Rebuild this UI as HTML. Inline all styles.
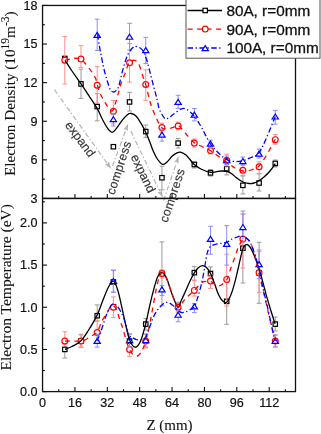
<!DOCTYPE html><html><head><meta charset="utf-8"><style>html,body{margin:0;padding:0;background:#fff;}svg{display:block;will-change:transform}</style></head><body>
<svg width="321" height="434" viewBox="0 0 321 434">
<rect width="321" height="434" fill="#fff"/>
<line x1="54.40" y1="89.70" x2="106.93" y2="162.91" stroke="#b4b4b4" stroke-width="1.2" stroke-dasharray="5,2.2,1.3,2.2"/>
<path d="M111.30,169.00 L105.06,164.25 L107.58,163.82 L108.80,161.57 Z" fill="#b4b4b4"/>
<line x1="112.50" y1="166.00" x2="125.60" y2="130.54" stroke="#b4b4b4" stroke-width="1.2" stroke-dasharray="5,2.2,1.3,2.2"/>
<path d="M128.20,123.50 L127.76,131.33 L125.99,129.48 L123.44,129.74 Z" fill="#b4b4b4"/>
<line x1="130.80" y1="131.00" x2="159.65" y2="191.04" stroke="#b4b4b4" stroke-width="1.2" stroke-dasharray="5,2.2,1.3,2.2"/>
<path d="M162.90,197.80 L157.58,192.04 L160.14,192.05 L161.72,190.04 Z" fill="#b4b4b4"/>
<line x1="163.60" y1="200.50" x2="176.38" y2="163.10" stroke="#b4b4b4" stroke-width="1.2" stroke-dasharray="5,2.2,1.3,2.2"/>
<path d="M178.80,156.00 L178.55,163.84 L176.74,162.03 L174.20,162.35 Z" fill="#b4b4b4"/>
<text x="0" y="0" transform="translate(64.50,125.30) rotate(53.00)" font-family="Liberation Sans, sans-serif" font-size="12.50" letter-spacing="0.00" fill="#363636" stroke="#363636" stroke-width="0.15">expand</text>
<text x="0" y="0" transform="translate(114.30,195.50) rotate(-72.00)" font-family="Liberation Sans, sans-serif" font-size="12.30" letter-spacing="0.30" fill="#363636" stroke="#363636" stroke-width="0.15">compress</text>
<text x="0" y="0" transform="translate(130.60,156.80) rotate(64.50)" font-family="Liberation Sans, sans-serif" font-size="12.50" letter-spacing="0.00" fill="#363636" stroke="#363636" stroke-width="0.15">expand</text>
<text x="0" y="0" transform="translate(167.30,223.20) rotate(-71.50)" font-family="Liberation Sans, sans-serif" font-size="12.30" letter-spacing="0.35" fill="#363636" stroke="#363636" stroke-width="0.15">compress</text>
<rect x="42.55" y="5.45" width="252.95" height="193.00" fill="none" stroke="#111" stroke-width="1.3"/>
<rect x="42.55" y="198.45" width="252.95" height="193.15" fill="none" stroke="#111" stroke-width="1.3"/>
<line x1="58.74" y1="198.45" x2="58.74" y2="196.05" stroke="#111" stroke-width="1.10"/>
<line x1="58.74" y1="391.60" x2="58.74" y2="389.20" stroke="#111" stroke-width="1.10"/>
<line x1="74.93" y1="198.45" x2="74.93" y2="193.95" stroke="#111" stroke-width="1.10"/>
<line x1="74.93" y1="391.60" x2="74.93" y2="387.10" stroke="#111" stroke-width="1.10"/>
<line x1="91.12" y1="198.45" x2="91.12" y2="196.05" stroke="#111" stroke-width="1.10"/>
<line x1="91.12" y1="391.60" x2="91.12" y2="389.20" stroke="#111" stroke-width="1.10"/>
<line x1="107.31" y1="198.45" x2="107.31" y2="193.95" stroke="#111" stroke-width="1.10"/>
<line x1="107.31" y1="391.60" x2="107.31" y2="387.10" stroke="#111" stroke-width="1.10"/>
<line x1="123.49" y1="198.45" x2="123.49" y2="196.05" stroke="#111" stroke-width="1.10"/>
<line x1="123.49" y1="391.60" x2="123.49" y2="389.20" stroke="#111" stroke-width="1.10"/>
<line x1="139.68" y1="198.45" x2="139.68" y2="193.95" stroke="#111" stroke-width="1.10"/>
<line x1="139.68" y1="391.60" x2="139.68" y2="387.10" stroke="#111" stroke-width="1.10"/>
<line x1="155.87" y1="198.45" x2="155.87" y2="196.05" stroke="#111" stroke-width="1.10"/>
<line x1="155.87" y1="391.60" x2="155.87" y2="389.20" stroke="#111" stroke-width="1.10"/>
<line x1="172.06" y1="198.45" x2="172.06" y2="193.95" stroke="#111" stroke-width="1.10"/>
<line x1="172.06" y1="391.60" x2="172.06" y2="387.10" stroke="#111" stroke-width="1.10"/>
<line x1="188.25" y1="198.45" x2="188.25" y2="196.05" stroke="#111" stroke-width="1.10"/>
<line x1="188.25" y1="391.60" x2="188.25" y2="389.20" stroke="#111" stroke-width="1.10"/>
<line x1="204.44" y1="198.45" x2="204.44" y2="193.95" stroke="#111" stroke-width="1.10"/>
<line x1="204.44" y1="391.60" x2="204.44" y2="387.10" stroke="#111" stroke-width="1.10"/>
<line x1="220.63" y1="198.45" x2="220.63" y2="196.05" stroke="#111" stroke-width="1.10"/>
<line x1="220.63" y1="391.60" x2="220.63" y2="389.20" stroke="#111" stroke-width="1.10"/>
<line x1="236.82" y1="198.45" x2="236.82" y2="193.95" stroke="#111" stroke-width="1.10"/>
<line x1="236.82" y1="391.60" x2="236.82" y2="387.10" stroke="#111" stroke-width="1.10"/>
<line x1="253.00" y1="198.45" x2="253.00" y2="196.05" stroke="#111" stroke-width="1.10"/>
<line x1="253.00" y1="391.60" x2="253.00" y2="389.20" stroke="#111" stroke-width="1.10"/>
<line x1="269.19" y1="198.45" x2="269.19" y2="193.95" stroke="#111" stroke-width="1.10"/>
<line x1="269.19" y1="391.60" x2="269.19" y2="387.10" stroke="#111" stroke-width="1.10"/>
<line x1="285.38" y1="198.45" x2="285.38" y2="196.05" stroke="#111" stroke-width="1.10"/>
<line x1="285.38" y1="391.60" x2="285.38" y2="389.20" stroke="#111" stroke-width="1.10"/>
<line x1="42.55" y1="198.45" x2="47.05" y2="198.45" stroke="#111" stroke-width="1.10"/>
<line x1="42.55" y1="179.15" x2="44.95" y2="179.15" stroke="#111" stroke-width="1.10"/>
<line x1="42.55" y1="159.85" x2="47.05" y2="159.85" stroke="#111" stroke-width="1.10"/>
<line x1="42.55" y1="140.55" x2="44.95" y2="140.55" stroke="#111" stroke-width="1.10"/>
<line x1="42.55" y1="121.25" x2="47.05" y2="121.25" stroke="#111" stroke-width="1.10"/>
<line x1="42.55" y1="101.95" x2="44.95" y2="101.95" stroke="#111" stroke-width="1.10"/>
<line x1="42.55" y1="82.65" x2="47.05" y2="82.65" stroke="#111" stroke-width="1.10"/>
<line x1="42.55" y1="63.35" x2="44.95" y2="63.35" stroke="#111" stroke-width="1.10"/>
<line x1="42.55" y1="44.05" x2="47.05" y2="44.05" stroke="#111" stroke-width="1.10"/>
<line x1="42.55" y1="24.75" x2="44.95" y2="24.75" stroke="#111" stroke-width="1.10"/>
<line x1="42.55" y1="5.45" x2="47.05" y2="5.45" stroke="#111" stroke-width="1.10"/>
<line x1="42.55" y1="391.60" x2="47.05" y2="391.60" stroke="#111" stroke-width="1.10"/>
<line x1="42.55" y1="370.51" x2="44.95" y2="370.51" stroke="#111" stroke-width="1.10"/>
<line x1="42.55" y1="349.43" x2="47.05" y2="349.43" stroke="#111" stroke-width="1.10"/>
<line x1="42.55" y1="328.34" x2="44.95" y2="328.34" stroke="#111" stroke-width="1.10"/>
<line x1="42.55" y1="307.26" x2="47.05" y2="307.26" stroke="#111" stroke-width="1.10"/>
<line x1="42.55" y1="286.17" x2="44.95" y2="286.17" stroke="#111" stroke-width="1.10"/>
<line x1="42.55" y1="265.08" x2="47.05" y2="265.08" stroke="#111" stroke-width="1.10"/>
<line x1="42.55" y1="244.00" x2="44.95" y2="244.00" stroke="#111" stroke-width="1.10"/>
<line x1="42.55" y1="222.91" x2="47.05" y2="222.91" stroke="#111" stroke-width="1.10"/>
<line x1="42.55" y1="201.82" x2="44.95" y2="201.82" stroke="#111" stroke-width="1.10"/>
<text x="37.5" y="202.85" text-anchor="end" font-family="Liberation Sans, sans-serif" font-size="12.6" fill="#111" stroke="#111" stroke-width="0.2">3</text>
<text x="37.5" y="164.25" text-anchor="end" font-family="Liberation Sans, sans-serif" font-size="12.6" fill="#111" stroke="#111" stroke-width="0.2">6</text>
<text x="37.5" y="125.65" text-anchor="end" font-family="Liberation Sans, sans-serif" font-size="12.6" fill="#111" stroke="#111" stroke-width="0.2">9</text>
<text x="37.5" y="87.05" text-anchor="end" font-family="Liberation Sans, sans-serif" font-size="12.6" fill="#111" stroke="#111" stroke-width="0.2">12</text>
<text x="37.5" y="48.45" text-anchor="end" font-family="Liberation Sans, sans-serif" font-size="12.6" fill="#111" stroke="#111" stroke-width="0.2">15</text>
<text x="37.5" y="9.85" text-anchor="end" font-family="Liberation Sans, sans-serif" font-size="12.6" fill="#111" stroke="#111" stroke-width="0.2">18</text>
<text x="37.5" y="396.00" text-anchor="end" font-family="Liberation Sans, sans-serif" font-size="12.6" fill="#111" stroke="#111" stroke-width="0.2">0.0</text>
<text x="37.5" y="353.83" text-anchor="end" font-family="Liberation Sans, sans-serif" font-size="12.6" fill="#111" stroke="#111" stroke-width="0.2">0.5</text>
<text x="37.5" y="311.66" text-anchor="end" font-family="Liberation Sans, sans-serif" font-size="12.6" fill="#111" stroke="#111" stroke-width="0.2">1.0</text>
<text x="37.5" y="269.48" text-anchor="end" font-family="Liberation Sans, sans-serif" font-size="12.6" fill="#111" stroke="#111" stroke-width="0.2">1.5</text>
<text x="37.5" y="227.31" text-anchor="end" font-family="Liberation Sans, sans-serif" font-size="12.6" fill="#111" stroke="#111" stroke-width="0.2">2.0</text>
<text x="42.55" y="407" text-anchor="middle" font-family="Liberation Sans, sans-serif" font-size="12.6" fill="#111" stroke="#111" stroke-width="0.2">0</text>
<text x="74.93" y="407" text-anchor="middle" font-family="Liberation Sans, sans-serif" font-size="12.6" fill="#111" stroke="#111" stroke-width="0.2">16</text>
<text x="107.31" y="407" text-anchor="middle" font-family="Liberation Sans, sans-serif" font-size="12.6" fill="#111" stroke="#111" stroke-width="0.2">32</text>
<text x="139.68" y="407" text-anchor="middle" font-family="Liberation Sans, sans-serif" font-size="12.6" fill="#111" stroke="#111" stroke-width="0.2">48</text>
<text x="172.06" y="407" text-anchor="middle" font-family="Liberation Sans, sans-serif" font-size="12.6" fill="#111" stroke="#111" stroke-width="0.2">64</text>
<text x="204.44" y="407" text-anchor="middle" font-family="Liberation Sans, sans-serif" font-size="12.6" fill="#111" stroke="#111" stroke-width="0.2">80</text>
<text x="236.82" y="407" text-anchor="middle" font-family="Liberation Sans, sans-serif" font-size="12.6" fill="#111" stroke="#111" stroke-width="0.2">96</text>
<text x="269.19" y="407" text-anchor="middle" font-family="Liberation Sans, sans-serif" font-size="12.6" fill="#111" stroke="#111" stroke-width="0.2">112</text>
<text x="0" y="0" transform="translate(15.4,176) rotate(-90)" font-family="Liberation Serif, serif" font-size="15.2" fill="#111" stroke="#111" stroke-width="0.08">Electron Density (10<tspan font-size="11.6" dy="-6">19</tspan><tspan dy="6">m</tspan><tspan font-size="11.6" dy="-6">-3</tspan><tspan dy="6">)</tspan></text>
<text x="0" y="0" transform="translate(10.8,370.5) rotate(-90)" font-family="Liberation Serif, serif" font-size="15.5" fill="#111" stroke="#111" stroke-width="0.08">Electron Temperature (eV)</text>
<text x="169.5" y="429.5" text-anchor="middle" font-family="Liberation Serif, serif" font-size="15" fill="#111" stroke="#111" stroke-width="0.08">Z (mm)</text>
<line x1="81.00" y1="69.20" x2="81.00" y2="98.40" stroke="#9a9a9a" stroke-width="1.00"/>
<line x1="78.65" y1="69.20" x2="83.35" y2="69.20" stroke="#9a9a9a" stroke-width="1.00"/>
<line x1="78.65" y1="98.40" x2="83.35" y2="98.40" stroke="#9a9a9a" stroke-width="1.00"/>
<line x1="97.19" y1="93.60" x2="97.19" y2="120.90" stroke="#9a9a9a" stroke-width="1.00"/>
<line x1="94.84" y1="93.60" x2="99.54" y2="93.60" stroke="#9a9a9a" stroke-width="1.00"/>
<line x1="94.84" y1="120.90" x2="99.54" y2="120.90" stroke="#9a9a9a" stroke-width="1.00"/>
<line x1="129.56" y1="92.40" x2="129.56" y2="111.00" stroke="#9a9a9a" stroke-width="1.00"/>
<line x1="127.21" y1="92.40" x2="131.91" y2="92.40" stroke="#9a9a9a" stroke-width="1.00"/>
<line x1="127.21" y1="111.00" x2="131.91" y2="111.00" stroke="#9a9a9a" stroke-width="1.00"/>
<line x1="145.75" y1="125.00" x2="145.75" y2="137.40" stroke="#9a9a9a" stroke-width="1.00"/>
<line x1="143.40" y1="125.00" x2="148.10" y2="125.00" stroke="#9a9a9a" stroke-width="1.00"/>
<line x1="143.40" y1="137.40" x2="148.10" y2="137.40" stroke="#9a9a9a" stroke-width="1.00"/>
<line x1="161.94" y1="166.20" x2="161.94" y2="189.90" stroke="#9a9a9a" stroke-width="1.00"/>
<line x1="159.59" y1="166.20" x2="164.29" y2="166.20" stroke="#9a9a9a" stroke-width="1.00"/>
<line x1="159.59" y1="189.90" x2="164.29" y2="189.90" stroke="#9a9a9a" stroke-width="1.00"/>
<line x1="178.13" y1="138.50" x2="178.13" y2="148.00" stroke="#9a9a9a" stroke-width="1.00"/>
<line x1="175.78" y1="138.50" x2="180.48" y2="138.50" stroke="#9a9a9a" stroke-width="1.00"/>
<line x1="175.78" y1="148.00" x2="180.48" y2="148.00" stroke="#9a9a9a" stroke-width="1.00"/>
<line x1="194.32" y1="162.00" x2="194.32" y2="168.00" stroke="#9a9a9a" stroke-width="1.00"/>
<line x1="191.97" y1="162.00" x2="196.67" y2="162.00" stroke="#9a9a9a" stroke-width="1.00"/>
<line x1="191.97" y1="168.00" x2="196.67" y2="168.00" stroke="#9a9a9a" stroke-width="1.00"/>
<line x1="210.51" y1="169.50" x2="210.51" y2="176.00" stroke="#9a9a9a" stroke-width="1.00"/>
<line x1="208.16" y1="169.50" x2="212.86" y2="169.50" stroke="#9a9a9a" stroke-width="1.00"/>
<line x1="208.16" y1="176.00" x2="212.86" y2="176.00" stroke="#9a9a9a" stroke-width="1.00"/>
<line x1="226.70" y1="163.00" x2="226.70" y2="174.90" stroke="#9a9a9a" stroke-width="1.00"/>
<line x1="224.35" y1="163.00" x2="229.05" y2="163.00" stroke="#9a9a9a" stroke-width="1.00"/>
<line x1="224.35" y1="174.90" x2="229.05" y2="174.90" stroke="#9a9a9a" stroke-width="1.00"/>
<line x1="242.89" y1="176.00" x2="242.89" y2="194.00" stroke="#9a9a9a" stroke-width="1.00"/>
<line x1="240.54" y1="176.00" x2="245.24" y2="176.00" stroke="#9a9a9a" stroke-width="1.00"/>
<line x1="240.54" y1="194.00" x2="245.24" y2="194.00" stroke="#9a9a9a" stroke-width="1.00"/>
<line x1="259.08" y1="173.70" x2="259.08" y2="191.00" stroke="#9a9a9a" stroke-width="1.00"/>
<line x1="256.73" y1="173.70" x2="261.43" y2="173.70" stroke="#9a9a9a" stroke-width="1.00"/>
<line x1="256.73" y1="191.00" x2="261.43" y2="191.00" stroke="#9a9a9a" stroke-width="1.00"/>
<line x1="275.26" y1="160.00" x2="275.26" y2="167.00" stroke="#9a9a9a" stroke-width="1.00"/>
<line x1="272.91" y1="160.00" x2="277.61" y2="160.00" stroke="#9a9a9a" stroke-width="1.00"/>
<line x1="272.91" y1="167.00" x2="277.61" y2="167.00" stroke="#9a9a9a" stroke-width="1.00"/>
<rect x="62.61" y="56.26" width="4.40" height="4.40" fill="#fff" stroke="#000" stroke-width="1.20"/>
<rect x="78.80" y="81.74" width="4.40" height="4.40" fill="#fff" stroke="#000" stroke-width="1.20"/>
<rect x="94.99" y="104.38" width="4.40" height="4.40" fill="#fff" stroke="#000" stroke-width="1.20"/>
<rect x="111.18" y="144.53" width="4.40" height="4.40" fill="#fff" stroke="#000" stroke-width="1.20"/>
<rect x="127.36" y="99.75" width="4.40" height="4.40" fill="#fff" stroke="#000" stroke-width="1.20"/>
<rect x="143.55" y="129.34" width="4.40" height="4.40" fill="#fff" stroke="#000" stroke-width="1.20"/>
<rect x="159.74" y="175.53" width="4.40" height="4.40" fill="#fff" stroke="#000" stroke-width="1.20"/>
<rect x="175.93" y="140.92" width="4.40" height="4.40" fill="#fff" stroke="#000" stroke-width="1.20"/>
<rect x="192.12" y="162.28" width="4.40" height="4.40" fill="#fff" stroke="#000" stroke-width="1.20"/>
<rect x="208.31" y="170.65" width="4.40" height="4.40" fill="#fff" stroke="#000" stroke-width="1.20"/>
<rect x="224.50" y="166.53" width="4.40" height="4.40" fill="#fff" stroke="#000" stroke-width="1.20"/>
<rect x="240.69" y="183.13" width="4.40" height="4.40" fill="#fff" stroke="#000" stroke-width="1.20"/>
<rect x="256.88" y="180.81" width="4.40" height="4.40" fill="#fff" stroke="#000" stroke-width="1.20"/>
<rect x="273.06" y="161.25" width="4.40" height="4.40" fill="#fff" stroke="#000" stroke-width="1.20"/>
<line x1="64.81" y1="36.60" x2="64.81" y2="84.00" stroke="#ff8c8c" stroke-width="1.00"/>
<line x1="62.46" y1="36.60" x2="67.16" y2="36.60" stroke="#ff8c8c" stroke-width="1.00"/>
<line x1="62.46" y1="84.00" x2="67.16" y2="84.00" stroke="#ff8c8c" stroke-width="1.00"/>
<line x1="81.00" y1="45.70" x2="81.00" y2="67.40" stroke="#ff8c8c" stroke-width="1.00"/>
<line x1="78.65" y1="45.70" x2="83.35" y2="45.70" stroke="#ff8c8c" stroke-width="1.00"/>
<line x1="78.65" y1="67.40" x2="83.35" y2="67.40" stroke="#ff8c8c" stroke-width="1.00"/>
<line x1="97.19" y1="66.70" x2="97.19" y2="103.00" stroke="#ff8c8c" stroke-width="1.00"/>
<line x1="94.84" y1="66.70" x2="99.54" y2="66.70" stroke="#ff8c8c" stroke-width="1.00"/>
<line x1="94.84" y1="103.00" x2="99.54" y2="103.00" stroke="#ff8c8c" stroke-width="1.00"/>
<line x1="113.38" y1="100.60" x2="113.38" y2="124.00" stroke="#ff8c8c" stroke-width="1.00"/>
<line x1="111.03" y1="100.60" x2="115.73" y2="100.60" stroke="#ff8c8c" stroke-width="1.00"/>
<line x1="111.03" y1="124.00" x2="115.73" y2="124.00" stroke="#ff8c8c" stroke-width="1.00"/>
<line x1="129.56" y1="43.50" x2="129.56" y2="82.10" stroke="#ff8c8c" stroke-width="1.00"/>
<line x1="127.21" y1="43.50" x2="131.91" y2="43.50" stroke="#ff8c8c" stroke-width="1.00"/>
<line x1="127.21" y1="82.10" x2="131.91" y2="82.10" stroke="#ff8c8c" stroke-width="1.00"/>
<line x1="145.75" y1="69.80" x2="145.75" y2="100.30" stroke="#ff8c8c" stroke-width="1.00"/>
<line x1="143.40" y1="69.80" x2="148.10" y2="69.80" stroke="#ff8c8c" stroke-width="1.00"/>
<line x1="143.40" y1="100.30" x2="148.10" y2="100.30" stroke="#ff8c8c" stroke-width="1.00"/>
<line x1="161.94" y1="123.20" x2="161.94" y2="132.00" stroke="#ff8c8c" stroke-width="1.00"/>
<line x1="159.59" y1="123.20" x2="164.29" y2="123.20" stroke="#ff8c8c" stroke-width="1.00"/>
<line x1="159.59" y1="132.00" x2="164.29" y2="132.00" stroke="#ff8c8c" stroke-width="1.00"/>
<line x1="178.13" y1="122.10" x2="178.13" y2="129.80" stroke="#ff8c8c" stroke-width="1.00"/>
<line x1="175.78" y1="122.10" x2="180.48" y2="122.10" stroke="#ff8c8c" stroke-width="1.00"/>
<line x1="175.78" y1="129.80" x2="180.48" y2="129.80" stroke="#ff8c8c" stroke-width="1.00"/>
<line x1="194.32" y1="139.00" x2="194.32" y2="147.00" stroke="#ff8c8c" stroke-width="1.00"/>
<line x1="191.97" y1="139.00" x2="196.67" y2="139.00" stroke="#ff8c8c" stroke-width="1.00"/>
<line x1="191.97" y1="147.00" x2="196.67" y2="147.00" stroke="#ff8c8c" stroke-width="1.00"/>
<line x1="210.51" y1="147.00" x2="210.51" y2="154.00" stroke="#ff8c8c" stroke-width="1.00"/>
<line x1="208.16" y1="147.00" x2="212.86" y2="147.00" stroke="#ff8c8c" stroke-width="1.00"/>
<line x1="208.16" y1="154.00" x2="212.86" y2="154.00" stroke="#ff8c8c" stroke-width="1.00"/>
<line x1="226.70" y1="154.10" x2="226.70" y2="166.00" stroke="#ff8c8c" stroke-width="1.00"/>
<line x1="224.35" y1="154.10" x2="229.05" y2="154.10" stroke="#ff8c8c" stroke-width="1.00"/>
<line x1="224.35" y1="166.00" x2="229.05" y2="166.00" stroke="#ff8c8c" stroke-width="1.00"/>
<line x1="242.89" y1="165.00" x2="242.89" y2="175.50" stroke="#ff8c8c" stroke-width="1.00"/>
<line x1="240.54" y1="165.00" x2="245.24" y2="165.00" stroke="#ff8c8c" stroke-width="1.00"/>
<line x1="240.54" y1="175.50" x2="245.24" y2="175.50" stroke="#ff8c8c" stroke-width="1.00"/>
<line x1="259.08" y1="161.80" x2="259.08" y2="173.70" stroke="#ff8c8c" stroke-width="1.00"/>
<line x1="256.73" y1="161.80" x2="261.43" y2="161.80" stroke="#ff8c8c" stroke-width="1.00"/>
<line x1="256.73" y1="173.70" x2="261.43" y2="173.70" stroke="#ff8c8c" stroke-width="1.00"/>
<line x1="275.26" y1="134.60" x2="275.26" y2="144.20" stroke="#ff8c8c" stroke-width="1.00"/>
<line x1="272.91" y1="134.60" x2="277.61" y2="134.60" stroke="#ff8c8c" stroke-width="1.00"/>
<line x1="272.91" y1="144.20" x2="277.61" y2="144.20" stroke="#ff8c8c" stroke-width="1.00"/>
<circle cx="64.81" cy="60.26" r="2.90" fill="#fff" stroke="#ff0000" stroke-width="1.20"/>
<circle cx="81.00" cy="59.10" r="2.90" fill="#fff" stroke="#ff0000" stroke-width="1.20"/>
<circle cx="97.19" cy="85.22" r="2.90" fill="#fff" stroke="#ff0000" stroke-width="1.20"/>
<circle cx="113.38" cy="111.21" r="2.90" fill="#fff" stroke="#ff0000" stroke-width="1.20"/>
<circle cx="129.56" cy="62.84" r="2.90" fill="#fff" stroke="#ff0000" stroke-width="1.20"/>
<circle cx="145.75" cy="84.45" r="2.90" fill="#fff" stroke="#ff0000" stroke-width="1.20"/>
<circle cx="161.94" cy="127.43" r="2.90" fill="#fff" stroke="#ff0000" stroke-width="1.20"/>
<circle cx="178.13" cy="126.01" r="2.90" fill="#fff" stroke="#ff0000" stroke-width="1.20"/>
<circle cx="194.32" cy="143.12" r="2.90" fill="#fff" stroke="#ff0000" stroke-width="1.20"/>
<circle cx="210.51" cy="150.59" r="2.90" fill="#fff" stroke="#ff0000" stroke-width="1.20"/>
<circle cx="226.70" cy="160.36" r="2.90" fill="#fff" stroke="#ff0000" stroke-width="1.20"/>
<circle cx="242.89" cy="170.27" r="2.90" fill="#fff" stroke="#ff0000" stroke-width="1.20"/>
<circle cx="259.08" cy="166.80" r="2.90" fill="#fff" stroke="#ff0000" stroke-width="1.20"/>
<circle cx="275.26" cy="139.65" r="2.90" fill="#fff" stroke="#ff0000" stroke-width="1.20"/>
<line x1="97.19" y1="19.20" x2="97.19" y2="50.40" stroke="#8c8cff" stroke-width="1.00"/>
<line x1="94.84" y1="19.20" x2="99.54" y2="19.20" stroke="#8c8cff" stroke-width="1.00"/>
<line x1="94.84" y1="50.40" x2="99.54" y2="50.40" stroke="#8c8cff" stroke-width="1.00"/>
<line x1="113.38" y1="114.00" x2="113.38" y2="126.00" stroke="#8c8cff" stroke-width="1.00"/>
<line x1="111.03" y1="114.00" x2="115.73" y2="114.00" stroke="#8c8cff" stroke-width="1.00"/>
<line x1="111.03" y1="126.00" x2="115.73" y2="126.00" stroke="#8c8cff" stroke-width="1.00"/>
<line x1="129.56" y1="23.30" x2="129.56" y2="50.00" stroke="#8c8cff" stroke-width="1.00"/>
<line x1="127.21" y1="23.30" x2="131.91" y2="23.30" stroke="#8c8cff" stroke-width="1.00"/>
<line x1="127.21" y1="50.00" x2="131.91" y2="50.00" stroke="#8c8cff" stroke-width="1.00"/>
<line x1="145.75" y1="37.40" x2="145.75" y2="63.60" stroke="#8c8cff" stroke-width="1.00"/>
<line x1="143.40" y1="37.40" x2="148.10" y2="37.40" stroke="#8c8cff" stroke-width="1.00"/>
<line x1="143.40" y1="63.60" x2="148.10" y2="63.60" stroke="#8c8cff" stroke-width="1.00"/>
<line x1="161.94" y1="129.00" x2="161.94" y2="141.10" stroke="#8c8cff" stroke-width="1.00"/>
<line x1="159.59" y1="129.00" x2="164.29" y2="129.00" stroke="#8c8cff" stroke-width="1.00"/>
<line x1="159.59" y1="141.10" x2="164.29" y2="141.10" stroke="#8c8cff" stroke-width="1.00"/>
<line x1="178.13" y1="95.30" x2="178.13" y2="108.40" stroke="#8c8cff" stroke-width="1.00"/>
<line x1="175.78" y1="95.30" x2="180.48" y2="95.30" stroke="#8c8cff" stroke-width="1.00"/>
<line x1="175.78" y1="108.40" x2="180.48" y2="108.40" stroke="#8c8cff" stroke-width="1.00"/>
<line x1="194.32" y1="108.50" x2="194.32" y2="120.90" stroke="#8c8cff" stroke-width="1.00"/>
<line x1="191.97" y1="108.50" x2="196.67" y2="108.50" stroke="#8c8cff" stroke-width="1.00"/>
<line x1="191.97" y1="120.90" x2="196.67" y2="120.90" stroke="#8c8cff" stroke-width="1.00"/>
<line x1="210.51" y1="140.20" x2="210.51" y2="147.50" stroke="#8c8cff" stroke-width="1.00"/>
<line x1="208.16" y1="140.20" x2="212.86" y2="140.20" stroke="#8c8cff" stroke-width="1.00"/>
<line x1="208.16" y1="147.50" x2="212.86" y2="147.50" stroke="#8c8cff" stroke-width="1.00"/>
<line x1="226.70" y1="156.00" x2="226.70" y2="164.50" stroke="#8c8cff" stroke-width="1.00"/>
<line x1="224.35" y1="156.00" x2="229.05" y2="156.00" stroke="#8c8cff" stroke-width="1.00"/>
<line x1="224.35" y1="164.50" x2="229.05" y2="164.50" stroke="#8c8cff" stroke-width="1.00"/>
<line x1="242.89" y1="157.00" x2="242.89" y2="165.00" stroke="#8c8cff" stroke-width="1.00"/>
<line x1="240.54" y1="157.00" x2="245.24" y2="157.00" stroke="#8c8cff" stroke-width="1.00"/>
<line x1="240.54" y1="165.00" x2="245.24" y2="165.00" stroke="#8c8cff" stroke-width="1.00"/>
<line x1="259.08" y1="149.00" x2="259.08" y2="158.00" stroke="#8c8cff" stroke-width="1.00"/>
<line x1="256.73" y1="149.00" x2="261.43" y2="149.00" stroke="#8c8cff" stroke-width="1.00"/>
<line x1="256.73" y1="158.00" x2="261.43" y2="158.00" stroke="#8c8cff" stroke-width="1.00"/>
<line x1="275.26" y1="110.40" x2="275.26" y2="124.20" stroke="#8c8cff" stroke-width="1.00"/>
<line x1="272.91" y1="110.40" x2="277.61" y2="110.40" stroke="#8c8cff" stroke-width="1.00"/>
<line x1="272.91" y1="124.20" x2="277.61" y2="124.20" stroke="#8c8cff" stroke-width="1.00"/>
<path d="M97.19,32.44 L100.34,37.44 L94.04,37.44 Z" fill="#fff" stroke="#0000ff" stroke-width="1.20" stroke-linejoin="miter"/>
<path d="M113.38,116.72 L116.53,121.72 L110.23,121.72 Z" fill="#fff" stroke="#0000ff" stroke-width="1.20" stroke-linejoin="miter"/>
<path d="M129.56,34.24 L132.71,39.24 L126.41,39.24 Z" fill="#fff" stroke="#0000ff" stroke-width="1.20" stroke-linejoin="miter"/>
<path d="M145.75,47.63 L148.90,52.63 L142.60,52.63 Z" fill="#fff" stroke="#0000ff" stroke-width="1.20" stroke-linejoin="miter"/>
<path d="M161.94,132.16 L165.09,137.16 L158.79,137.16 Z" fill="#fff" stroke="#0000ff" stroke-width="1.20" stroke-linejoin="miter"/>
<path d="M178.13,99.35 L181.28,104.35 L174.98,104.35 Z" fill="#fff" stroke="#0000ff" stroke-width="1.20" stroke-linejoin="miter"/>
<path d="M194.32,112.09 L197.47,117.09 L191.17,117.09 Z" fill="#fff" stroke="#0000ff" stroke-width="1.20" stroke-linejoin="miter"/>
<path d="M210.51,141.17 L213.66,146.17 L207.36,146.17 Z" fill="#fff" stroke="#0000ff" stroke-width="1.20" stroke-linejoin="miter"/>
<path d="M226.70,157.76 L229.85,162.76 L223.55,162.76 Z" fill="#fff" stroke="#0000ff" stroke-width="1.20" stroke-linejoin="miter"/>
<path d="M242.89,158.54 L246.04,163.54 L239.74,163.54 Z" fill="#fff" stroke="#0000ff" stroke-width="1.20" stroke-linejoin="miter"/>
<path d="M259.08,151.07 L262.23,156.07 L255.93,156.07 Z" fill="#fff" stroke="#0000ff" stroke-width="1.20" stroke-linejoin="miter"/>
<path d="M275.26,114.02 L278.41,119.02 L272.11,119.02 Z" fill="#fff" stroke="#0000ff" stroke-width="1.20" stroke-linejoin="miter"/>
<path d="M64.90,60.30 C66.08,62.08 69.28,67.02 72.00,71.00 C74.72,74.98 78.37,80.07 81.20,84.20 C84.03,88.33 86.30,91.70 89.00,95.80 C91.70,99.90 95.40,105.35 97.40,108.80 C99.40,112.25 99.75,113.97 101.00,116.50 C102.25,119.03 103.65,121.83 104.90,124.00 C106.15,126.17 107.27,128.12 108.50,129.50 C109.73,130.88 111.02,132.43 112.30,132.30 C113.58,132.17 114.50,130.77 116.20,128.70 C117.90,126.63 120.63,122.23 122.50,119.90 C124.37,117.57 125.95,115.77 127.40,114.70 C128.85,113.63 129.73,113.25 131.20,113.50 C132.67,113.75 134.53,114.50 136.20,116.20 C137.87,117.90 139.55,120.90 141.20,123.70 C142.85,126.50 144.63,129.87 146.10,133.00 C147.57,136.13 148.85,139.58 150.00,142.50 C151.15,145.42 151.83,147.83 153.00,150.50 C154.17,153.17 155.43,156.20 157.00,158.50 C158.57,160.80 160.73,163.72 162.40,164.30 C164.07,164.88 165.35,163.37 167.00,162.00 C168.65,160.63 170.63,157.63 172.30,156.10 C173.97,154.57 175.53,153.43 177.00,152.80 C178.47,152.17 179.60,151.93 181.10,152.30 C182.60,152.67 184.52,153.80 186.00,155.00 C187.48,156.20 188.62,157.90 190.00,159.50 C191.38,161.10 192.48,163.02 194.30,164.60 C196.12,166.18 198.25,167.72 200.90,169.00 C203.55,170.28 207.68,171.83 210.20,172.30 C212.72,172.77 214.17,172.02 216.00,171.80 C217.83,171.58 219.30,171.05 221.20,171.00 C223.10,170.95 225.60,171.00 227.40,171.50 C229.20,172.00 230.45,172.93 232.00,174.00 C233.55,175.07 234.87,176.57 236.70,177.90 C238.53,179.23 240.92,181.07 243.00,182.00 C245.08,182.93 247.37,183.33 249.20,183.50 C251.03,183.67 252.45,183.42 254.00,183.00 C255.55,182.58 256.83,182.00 258.50,181.00 C260.17,180.00 262.08,178.67 264.00,177.00 C265.92,175.33 268.12,173.23 270.00,171.00 C271.88,168.77 274.42,164.83 275.30,163.60" fill="none" stroke="#000" stroke-width="1.30"  stroke-linejoin="round"/>
<path d="M64.90,60.30 C66.37,59.97 71.03,58.50 73.70,58.30 C76.37,58.10 79.08,58.37 80.90,59.10 C82.72,59.83 82.95,60.80 84.60,62.70 C86.25,64.60 88.98,67.90 90.80,70.50 C92.62,73.10 94.42,75.90 95.50,78.30 C96.58,80.70 96.55,82.45 97.30,84.90 C98.05,87.35 98.95,90.50 100.00,93.00 C101.05,95.50 102.27,97.57 103.60,99.90 C104.93,102.23 106.55,105.13 108.00,107.00 C109.45,108.87 111.05,111.77 112.30,111.10 C113.55,110.43 114.45,106.12 115.50,103.00 C116.55,99.88 117.65,95.73 118.60,92.40 C119.55,89.07 120.05,86.35 121.20,83.00 C122.35,79.65 124.17,75.72 125.50,72.30 C126.83,68.88 127.75,64.50 129.20,62.50 C130.65,60.50 132.63,60.12 134.20,60.30 C135.77,60.48 137.13,60.87 138.60,63.60 C140.07,66.33 141.78,73.12 143.00,76.70 C144.22,80.28 144.68,80.80 145.90,85.10 C147.12,89.40 148.67,97.23 150.30,102.50 C151.93,107.77 153.82,112.52 155.70,116.70 C157.58,120.88 159.60,125.60 161.60,127.60 C163.60,129.60 165.80,128.72 167.70,128.70 C169.60,128.68 171.25,128.05 173.00,127.50 C174.75,126.95 176.17,124.48 178.20,125.40 C180.23,126.32 182.58,130.17 185.20,133.00 C187.82,135.83 191.10,140.15 193.90,142.40 C196.70,144.65 199.28,145.15 202.00,146.50 C204.72,147.85 207.53,148.92 210.20,150.50 C212.87,152.08 215.23,154.03 218.00,156.00 C220.77,157.97 223.97,160.30 226.80,162.30 C229.63,164.30 232.30,166.55 235.00,168.00 C237.70,169.45 240.33,170.67 243.00,171.00 C245.67,171.33 248.42,170.77 251.00,170.00 C253.58,169.23 256.00,168.73 258.50,166.40 C261.00,164.07 263.20,160.52 266.00,156.00 C268.80,151.48 273.75,142.08 275.30,139.30" fill="none" stroke="#ff0000" stroke-width="1.30" stroke-dasharray="5,4.5" stroke-linejoin="round"/>
<path d="M97.60,34.20 C97.90,36.20 98.75,42.40 99.40,46.20 C100.05,50.00 100.78,53.37 101.50,57.00 C102.22,60.63 102.78,64.17 103.70,68.00 C104.62,71.83 105.90,76.37 107.00,80.00 C108.10,83.63 109.13,87.80 110.30,89.80 C111.47,91.80 112.88,92.05 114.00,92.00 C115.12,91.95 116.17,90.60 117.00,89.50 C117.83,88.40 117.95,88.98 119.00,85.40 C120.05,81.82 121.85,73.08 123.30,68.00 C124.75,62.92 126.05,58.35 127.70,54.90 C129.35,51.45 131.75,48.68 133.20,47.30 C134.65,45.92 134.95,46.25 136.40,46.60 C137.85,46.95 140.27,47.47 141.90,49.40 C143.53,51.33 144.75,54.02 146.20,58.20 C147.65,62.38 149.32,69.60 150.60,74.50 C151.88,79.40 152.92,83.85 153.90,87.60 C154.88,91.35 155.65,93.60 156.50,97.00 C157.35,100.40 158.08,105.08 159.00,108.00 C159.92,110.92 160.92,112.68 162.00,114.50 C163.08,116.32 164.33,118.40 165.50,118.90 C166.67,119.40 167.72,118.23 169.00,117.50 C170.28,116.77 171.23,115.90 173.20,114.50 C175.17,113.10 178.63,110.00 180.80,109.10 C182.97,108.20 184.02,108.02 186.20,109.10 C188.38,110.18 191.53,112.88 193.90,115.60 C196.27,118.32 198.55,122.32 200.40,125.40 C202.25,128.48 203.37,131.07 205.00,134.10 C206.63,137.13 208.03,140.53 210.20,143.60 C212.37,146.67 215.23,149.80 218.00,152.50 C220.77,155.20 223.97,158.30 226.80,159.80 C229.63,161.30 232.30,161.35 235.00,161.50 C237.70,161.65 240.33,161.37 243.00,160.70 C245.67,160.03 248.42,158.68 251.00,157.50 C253.58,156.32 256.00,156.68 258.50,153.60 C261.00,150.52 263.20,145.20 266.00,139.00 C268.80,132.80 273.75,120.17 275.30,116.40" fill="none" stroke="#0000ff" stroke-width="1.30" stroke-dasharray="5.5,2.5,1.3,2.5" stroke-linejoin="round"/>
<line x1="64.81" y1="340.00" x2="64.81" y2="358.00" stroke="#9a9a9a" stroke-width="1.00"/>
<line x1="62.46" y1="340.00" x2="67.16" y2="340.00" stroke="#9a9a9a" stroke-width="1.00"/>
<line x1="62.46" y1="358.00" x2="67.16" y2="358.00" stroke="#9a9a9a" stroke-width="1.00"/>
<line x1="81.00" y1="334.30" x2="81.00" y2="347.30" stroke="#9a9a9a" stroke-width="1.00"/>
<line x1="78.65" y1="334.30" x2="83.35" y2="334.30" stroke="#9a9a9a" stroke-width="1.00"/>
<line x1="78.65" y1="347.30" x2="83.35" y2="347.30" stroke="#9a9a9a" stroke-width="1.00"/>
<line x1="97.19" y1="304.90" x2="97.19" y2="321.00" stroke="#9a9a9a" stroke-width="1.00"/>
<line x1="94.84" y1="304.90" x2="99.54" y2="304.90" stroke="#9a9a9a" stroke-width="1.00"/>
<line x1="94.84" y1="321.00" x2="99.54" y2="321.00" stroke="#9a9a9a" stroke-width="1.00"/>
<line x1="113.38" y1="270.00" x2="113.38" y2="292.00" stroke="#9a9a9a" stroke-width="1.00"/>
<line x1="111.03" y1="270.00" x2="115.73" y2="270.00" stroke="#9a9a9a" stroke-width="1.00"/>
<line x1="111.03" y1="292.00" x2="115.73" y2="292.00" stroke="#9a9a9a" stroke-width="1.00"/>
<line x1="129.56" y1="334.00" x2="129.56" y2="347.00" stroke="#9a9a9a" stroke-width="1.00"/>
<line x1="127.21" y1="334.00" x2="131.91" y2="334.00" stroke="#9a9a9a" stroke-width="1.00"/>
<line x1="127.21" y1="347.00" x2="131.91" y2="347.00" stroke="#9a9a9a" stroke-width="1.00"/>
<line x1="145.75" y1="318.50" x2="145.75" y2="330.00" stroke="#9a9a9a" stroke-width="1.00"/>
<line x1="143.40" y1="318.50" x2="148.10" y2="318.50" stroke="#9a9a9a" stroke-width="1.00"/>
<line x1="143.40" y1="330.00" x2="148.10" y2="330.00" stroke="#9a9a9a" stroke-width="1.00"/>
<line x1="161.94" y1="241.90" x2="161.94" y2="305.80" stroke="#9a9a9a" stroke-width="1.00"/>
<line x1="159.59" y1="241.90" x2="164.29" y2="241.90" stroke="#9a9a9a" stroke-width="1.00"/>
<line x1="159.59" y1="305.80" x2="164.29" y2="305.80" stroke="#9a9a9a" stroke-width="1.00"/>
<line x1="178.13" y1="302.20" x2="178.13" y2="312.00" stroke="#9a9a9a" stroke-width="1.00"/>
<line x1="175.78" y1="302.20" x2="180.48" y2="302.20" stroke="#9a9a9a" stroke-width="1.00"/>
<line x1="175.78" y1="312.00" x2="180.48" y2="312.00" stroke="#9a9a9a" stroke-width="1.00"/>
<line x1="194.32" y1="266.40" x2="194.32" y2="280.80" stroke="#9a9a9a" stroke-width="1.00"/>
<line x1="191.97" y1="266.40" x2="196.67" y2="266.40" stroke="#9a9a9a" stroke-width="1.00"/>
<line x1="191.97" y1="280.80" x2="196.67" y2="280.80" stroke="#9a9a9a" stroke-width="1.00"/>
<line x1="210.51" y1="266.90" x2="210.51" y2="279.60" stroke="#9a9a9a" stroke-width="1.00"/>
<line x1="208.16" y1="266.90" x2="212.86" y2="266.90" stroke="#9a9a9a" stroke-width="1.00"/>
<line x1="208.16" y1="279.60" x2="212.86" y2="279.60" stroke="#9a9a9a" stroke-width="1.00"/>
<line x1="226.70" y1="278.00" x2="226.70" y2="324.30" stroke="#9a9a9a" stroke-width="1.00"/>
<line x1="224.35" y1="278.00" x2="229.05" y2="278.00" stroke="#9a9a9a" stroke-width="1.00"/>
<line x1="224.35" y1="324.30" x2="229.05" y2="324.30" stroke="#9a9a9a" stroke-width="1.00"/>
<line x1="242.89" y1="214.00" x2="242.89" y2="283.00" stroke="#9a9a9a" stroke-width="1.00"/>
<line x1="240.54" y1="214.00" x2="245.24" y2="214.00" stroke="#9a9a9a" stroke-width="1.00"/>
<line x1="240.54" y1="283.00" x2="245.24" y2="283.00" stroke="#9a9a9a" stroke-width="1.00"/>
<line x1="259.08" y1="242.30" x2="259.08" y2="303.30" stroke="#9a9a9a" stroke-width="1.00"/>
<line x1="256.73" y1="242.30" x2="261.43" y2="242.30" stroke="#9a9a9a" stroke-width="1.00"/>
<line x1="256.73" y1="303.30" x2="261.43" y2="303.30" stroke="#9a9a9a" stroke-width="1.00"/>
<line x1="275.26" y1="317.00" x2="275.26" y2="331.00" stroke="#9a9a9a" stroke-width="1.00"/>
<line x1="272.91" y1="317.00" x2="277.61" y2="317.00" stroke="#9a9a9a" stroke-width="1.00"/>
<line x1="272.91" y1="331.00" x2="277.61" y2="331.00" stroke="#9a9a9a" stroke-width="1.00"/>
<rect x="62.61" y="347.23" width="4.40" height="4.40" fill="#fff" stroke="#000" stroke-width="1.20"/>
<rect x="78.80" y="338.79" width="4.40" height="4.40" fill="#fff" stroke="#000" stroke-width="1.20"/>
<rect x="94.99" y="313.49" width="4.40" height="4.40" fill="#fff" stroke="#000" stroke-width="1.20"/>
<rect x="111.18" y="279.75" width="4.40" height="4.40" fill="#fff" stroke="#000" stroke-width="1.20"/>
<rect x="127.36" y="338.79" width="4.40" height="4.40" fill="#fff" stroke="#000" stroke-width="1.20"/>
<rect x="143.55" y="321.92" width="4.40" height="4.40" fill="#fff" stroke="#000" stroke-width="1.20"/>
<rect x="159.74" y="271.32" width="4.40" height="4.40" fill="#fff" stroke="#000" stroke-width="1.20"/>
<rect x="175.93" y="305.06" width="4.40" height="4.40" fill="#fff" stroke="#000" stroke-width="1.20"/>
<rect x="192.12" y="270.47" width="4.40" height="4.40" fill="#fff" stroke="#000" stroke-width="1.20"/>
<rect x="208.31" y="271.32" width="4.40" height="4.40" fill="#fff" stroke="#000" stroke-width="1.20"/>
<rect x="224.50" y="299.15" width="4.40" height="4.40" fill="#fff" stroke="#000" stroke-width="1.20"/>
<rect x="240.69" y="246.01" width="4.40" height="4.40" fill="#fff" stroke="#000" stroke-width="1.20"/>
<rect x="256.88" y="270.47" width="4.40" height="4.40" fill="#fff" stroke="#000" stroke-width="1.20"/>
<rect x="273.06" y="321.92" width="4.40" height="4.40" fill="#fff" stroke="#000" stroke-width="1.20"/>
<line x1="64.81" y1="331.80" x2="64.81" y2="344.80" stroke="#ff8c8c" stroke-width="1.00"/>
<line x1="62.46" y1="331.80" x2="67.16" y2="331.80" stroke="#ff8c8c" stroke-width="1.00"/>
<line x1="62.46" y1="344.80" x2="67.16" y2="344.80" stroke="#ff8c8c" stroke-width="1.00"/>
<line x1="81.00" y1="335.00" x2="81.00" y2="347.00" stroke="#ff8c8c" stroke-width="1.00"/>
<line x1="78.65" y1="335.00" x2="83.35" y2="335.00" stroke="#ff8c8c" stroke-width="1.00"/>
<line x1="78.65" y1="347.00" x2="83.35" y2="347.00" stroke="#ff8c8c" stroke-width="1.00"/>
<line x1="97.19" y1="321.00" x2="97.19" y2="341.00" stroke="#ff8c8c" stroke-width="1.00"/>
<line x1="94.84" y1="321.00" x2="99.54" y2="321.00" stroke="#ff8c8c" stroke-width="1.00"/>
<line x1="94.84" y1="341.00" x2="99.54" y2="341.00" stroke="#ff8c8c" stroke-width="1.00"/>
<line x1="113.38" y1="296.90" x2="113.38" y2="317.60" stroke="#ff8c8c" stroke-width="1.00"/>
<line x1="111.03" y1="296.90" x2="115.73" y2="296.90" stroke="#ff8c8c" stroke-width="1.00"/>
<line x1="111.03" y1="317.60" x2="115.73" y2="317.60" stroke="#ff8c8c" stroke-width="1.00"/>
<line x1="129.56" y1="342.00" x2="129.56" y2="356.30" stroke="#ff8c8c" stroke-width="1.00"/>
<line x1="127.21" y1="342.00" x2="131.91" y2="342.00" stroke="#ff8c8c" stroke-width="1.00"/>
<line x1="127.21" y1="356.30" x2="131.91" y2="356.30" stroke="#ff8c8c" stroke-width="1.00"/>
<line x1="145.75" y1="334.20" x2="145.75" y2="348.00" stroke="#ff8c8c" stroke-width="1.00"/>
<line x1="143.40" y1="334.20" x2="148.10" y2="334.20" stroke="#ff8c8c" stroke-width="1.00"/>
<line x1="143.40" y1="348.00" x2="148.10" y2="348.00" stroke="#ff8c8c" stroke-width="1.00"/>
<line x1="161.94" y1="269.80" x2="161.94" y2="277.90" stroke="#ff8c8c" stroke-width="1.00"/>
<line x1="159.59" y1="269.80" x2="164.29" y2="269.80" stroke="#ff8c8c" stroke-width="1.00"/>
<line x1="159.59" y1="277.90" x2="164.29" y2="277.90" stroke="#ff8c8c" stroke-width="1.00"/>
<line x1="178.13" y1="303.50" x2="178.13" y2="311.00" stroke="#ff8c8c" stroke-width="1.00"/>
<line x1="175.78" y1="303.50" x2="180.48" y2="303.50" stroke="#ff8c8c" stroke-width="1.00"/>
<line x1="175.78" y1="311.00" x2="180.48" y2="311.00" stroke="#ff8c8c" stroke-width="1.00"/>
<line x1="194.32" y1="280.00" x2="194.32" y2="296.00" stroke="#ff8c8c" stroke-width="1.00"/>
<line x1="191.97" y1="280.00" x2="196.67" y2="280.00" stroke="#ff8c8c" stroke-width="1.00"/>
<line x1="191.97" y1="296.00" x2="196.67" y2="296.00" stroke="#ff8c8c" stroke-width="1.00"/>
<line x1="210.51" y1="275.00" x2="210.51" y2="288.40" stroke="#ff8c8c" stroke-width="1.00"/>
<line x1="208.16" y1="275.00" x2="212.86" y2="275.00" stroke="#ff8c8c" stroke-width="1.00"/>
<line x1="208.16" y1="288.40" x2="212.86" y2="288.40" stroke="#ff8c8c" stroke-width="1.00"/>
<line x1="226.70" y1="254.20" x2="226.70" y2="306.00" stroke="#ff8c8c" stroke-width="1.00"/>
<line x1="224.35" y1="254.20" x2="229.05" y2="254.20" stroke="#ff8c8c" stroke-width="1.00"/>
<line x1="224.35" y1="306.00" x2="229.05" y2="306.00" stroke="#ff8c8c" stroke-width="1.00"/>
<line x1="242.89" y1="214.00" x2="242.89" y2="268.00" stroke="#ff8c8c" stroke-width="1.00"/>
<line x1="240.54" y1="214.00" x2="245.24" y2="214.00" stroke="#ff8c8c" stroke-width="1.00"/>
<line x1="240.54" y1="268.00" x2="245.24" y2="268.00" stroke="#ff8c8c" stroke-width="1.00"/>
<line x1="259.08" y1="251.70" x2="259.08" y2="292.30" stroke="#ff8c8c" stroke-width="1.00"/>
<line x1="256.73" y1="251.70" x2="261.43" y2="251.70" stroke="#ff8c8c" stroke-width="1.00"/>
<line x1="256.73" y1="292.30" x2="261.43" y2="292.30" stroke="#ff8c8c" stroke-width="1.00"/>
<line x1="275.26" y1="335.00" x2="275.26" y2="347.00" stroke="#ff8c8c" stroke-width="1.00"/>
<line x1="272.91" y1="335.00" x2="277.61" y2="335.00" stroke="#ff8c8c" stroke-width="1.00"/>
<line x1="272.91" y1="347.00" x2="277.61" y2="347.00" stroke="#ff8c8c" stroke-width="1.00"/>
<circle cx="64.81" cy="340.99" r="2.90" fill="#fff" stroke="#ff0000" stroke-width="1.20"/>
<circle cx="81.00" cy="340.99" r="2.90" fill="#fff" stroke="#ff0000" stroke-width="1.20"/>
<circle cx="97.19" cy="332.56" r="2.90" fill="#fff" stroke="#ff0000" stroke-width="1.20"/>
<circle cx="113.38" cy="307.26" r="2.90" fill="#fff" stroke="#ff0000" stroke-width="1.20"/>
<circle cx="129.56" cy="349.43" r="2.90" fill="#fff" stroke="#ff0000" stroke-width="1.20"/>
<circle cx="145.75" cy="340.99" r="2.90" fill="#fff" stroke="#ff0000" stroke-width="1.20"/>
<circle cx="161.94" cy="273.52" r="2.90" fill="#fff" stroke="#ff0000" stroke-width="1.20"/>
<circle cx="178.13" cy="307.26" r="2.90" fill="#fff" stroke="#ff0000" stroke-width="1.20"/>
<circle cx="194.32" cy="290.39" r="2.90" fill="#fff" stroke="#ff0000" stroke-width="1.20"/>
<circle cx="210.51" cy="281.11" r="2.90" fill="#fff" stroke="#ff0000" stroke-width="1.20"/>
<circle cx="226.70" cy="279.42" r="2.90" fill="#fff" stroke="#ff0000" stroke-width="1.20"/>
<circle cx="242.89" cy="238.94" r="2.90" fill="#fff" stroke="#ff0000" stroke-width="1.20"/>
<circle cx="259.08" cy="272.67" r="2.90" fill="#fff" stroke="#ff0000" stroke-width="1.20"/>
<circle cx="275.26" cy="340.99" r="2.90" fill="#fff" stroke="#ff0000" stroke-width="1.20"/>
<line x1="97.19" y1="334.00" x2="97.19" y2="347.10" stroke="#8c8cff" stroke-width="1.00"/>
<line x1="94.84" y1="334.00" x2="99.54" y2="334.00" stroke="#8c8cff" stroke-width="1.00"/>
<line x1="94.84" y1="347.10" x2="99.54" y2="347.10" stroke="#8c8cff" stroke-width="1.00"/>
<line x1="113.38" y1="270.40" x2="113.38" y2="292.30" stroke="#8c8cff" stroke-width="1.00"/>
<line x1="111.03" y1="270.40" x2="115.73" y2="270.40" stroke="#8c8cff" stroke-width="1.00"/>
<line x1="111.03" y1="292.30" x2="115.73" y2="292.30" stroke="#8c8cff" stroke-width="1.00"/>
<line x1="129.56" y1="334.00" x2="129.56" y2="347.00" stroke="#8c8cff" stroke-width="1.00"/>
<line x1="127.21" y1="334.00" x2="131.91" y2="334.00" stroke="#8c8cff" stroke-width="1.00"/>
<line x1="127.21" y1="347.00" x2="131.91" y2="347.00" stroke="#8c8cff" stroke-width="1.00"/>
<line x1="145.75" y1="334.00" x2="145.75" y2="347.00" stroke="#8c8cff" stroke-width="1.00"/>
<line x1="143.40" y1="334.00" x2="148.10" y2="334.00" stroke="#8c8cff" stroke-width="1.00"/>
<line x1="143.40" y1="347.00" x2="148.10" y2="347.00" stroke="#8c8cff" stroke-width="1.00"/>
<line x1="161.94" y1="285.60" x2="161.94" y2="295.60" stroke="#8c8cff" stroke-width="1.00"/>
<line x1="159.59" y1="285.60" x2="164.29" y2="285.60" stroke="#8c8cff" stroke-width="1.00"/>
<line x1="159.59" y1="295.60" x2="164.29" y2="295.60" stroke="#8c8cff" stroke-width="1.00"/>
<line x1="178.13" y1="307.00" x2="178.13" y2="321.80" stroke="#8c8cff" stroke-width="1.00"/>
<line x1="175.78" y1="307.00" x2="180.48" y2="307.00" stroke="#8c8cff" stroke-width="1.00"/>
<line x1="175.78" y1="321.80" x2="180.48" y2="321.80" stroke="#8c8cff" stroke-width="1.00"/>
<line x1="194.32" y1="303.60" x2="194.32" y2="312.50" stroke="#8c8cff" stroke-width="1.00"/>
<line x1="191.97" y1="303.60" x2="196.67" y2="303.60" stroke="#8c8cff" stroke-width="1.00"/>
<line x1="191.97" y1="312.50" x2="196.67" y2="312.50" stroke="#8c8cff" stroke-width="1.00"/>
<line x1="210.51" y1="226.30" x2="210.51" y2="254.20" stroke="#8c8cff" stroke-width="1.00"/>
<line x1="208.16" y1="226.30" x2="212.86" y2="226.30" stroke="#8c8cff" stroke-width="1.00"/>
<line x1="208.16" y1="254.20" x2="212.86" y2="254.20" stroke="#8c8cff" stroke-width="1.00"/>
<line x1="226.70" y1="225.60" x2="226.70" y2="265.10" stroke="#8c8cff" stroke-width="1.00"/>
<line x1="224.35" y1="225.60" x2="229.05" y2="225.60" stroke="#8c8cff" stroke-width="1.00"/>
<line x1="224.35" y1="265.10" x2="229.05" y2="265.10" stroke="#8c8cff" stroke-width="1.00"/>
<line x1="242.89" y1="211.00" x2="242.89" y2="242.00" stroke="#8c8cff" stroke-width="1.00"/>
<line x1="240.54" y1="211.00" x2="245.24" y2="211.00" stroke="#8c8cff" stroke-width="1.00"/>
<line x1="240.54" y1="242.00" x2="245.24" y2="242.00" stroke="#8c8cff" stroke-width="1.00"/>
<line x1="259.08" y1="250.00" x2="259.08" y2="278.70" stroke="#8c8cff" stroke-width="1.00"/>
<line x1="256.73" y1="250.00" x2="261.43" y2="250.00" stroke="#8c8cff" stroke-width="1.00"/>
<line x1="256.73" y1="278.70" x2="261.43" y2="278.70" stroke="#8c8cff" stroke-width="1.00"/>
<line x1="275.26" y1="335.00" x2="275.26" y2="347.00" stroke="#8c8cff" stroke-width="1.00"/>
<line x1="272.91" y1="335.00" x2="277.61" y2="335.00" stroke="#8c8cff" stroke-width="1.00"/>
<line x1="272.91" y1="347.00" x2="277.61" y2="347.00" stroke="#8c8cff" stroke-width="1.00"/>
<path d="M97.19,338.39 L100.34,343.39 L94.04,343.39 Z" fill="#fff" stroke="#0000ff" stroke-width="1.20" stroke-linejoin="miter"/>
<path d="M113.38,278.51 L116.53,283.51 L110.23,283.51 Z" fill="#fff" stroke="#0000ff" stroke-width="1.20" stroke-linejoin="miter"/>
<path d="M129.56,337.55 L132.71,342.55 L126.41,342.55 Z" fill="#fff" stroke="#0000ff" stroke-width="1.20" stroke-linejoin="miter"/>
<path d="M145.75,337.55 L148.90,342.55 L142.60,342.55 Z" fill="#fff" stroke="#0000ff" stroke-width="1.20" stroke-linejoin="miter"/>
<path d="M161.94,286.94 L165.09,291.94 L158.79,291.94 Z" fill="#fff" stroke="#0000ff" stroke-width="1.20" stroke-linejoin="miter"/>
<path d="M178.13,312.25 L181.28,317.25 L174.98,317.25 Z" fill="#fff" stroke="#0000ff" stroke-width="1.20" stroke-linejoin="miter"/>
<path d="M194.32,303.81 L197.47,308.81 L191.17,308.81 Z" fill="#fff" stroke="#0000ff" stroke-width="1.20" stroke-linejoin="miter"/>
<path d="M210.51,236.34 L213.66,241.34 L207.36,241.34 Z" fill="#fff" stroke="#0000ff" stroke-width="1.20" stroke-linejoin="miter"/>
<path d="M226.70,241.40 L229.85,246.40 L223.55,246.40 Z" fill="#fff" stroke="#0000ff" stroke-width="1.20" stroke-linejoin="miter"/>
<path d="M242.89,224.53 L246.04,229.53 L239.74,229.53 Z" fill="#fff" stroke="#0000ff" stroke-width="1.20" stroke-linejoin="miter"/>
<path d="M259.08,261.64 L262.23,266.64 L255.93,266.64 Z" fill="#fff" stroke="#0000ff" stroke-width="1.20" stroke-linejoin="miter"/>
<path d="M275.26,338.39 L278.41,343.39 L272.11,343.39 Z" fill="#fff" stroke="#0000ff" stroke-width="1.20" stroke-linejoin="miter"/>
<path d="M65.00,349.30 C66.17,348.83 69.38,347.88 72.00,346.50 C74.62,345.12 78.03,343.58 80.70,341.00 C83.37,338.42 85.30,335.23 88.00,331.00 C90.70,326.77 94.40,320.77 96.90,315.60 C99.40,310.43 101.07,304.77 103.00,300.00 C104.93,295.23 106.72,290.13 108.50,287.00 C110.28,283.87 112.12,280.53 113.70,281.20 C115.28,281.87 116.55,286.23 118.00,291.00 C119.45,295.77 121.15,304.30 122.40,309.80 C123.65,315.30 124.45,319.42 125.50,324.00 C126.55,328.58 127.70,333.97 128.70,337.30 C129.70,340.63 130.47,342.35 131.50,344.00 C132.53,345.65 133.82,346.95 134.90,347.20 C135.98,347.45 136.97,346.73 138.00,345.50 C139.03,344.27 139.83,343.33 141.10,339.80 C142.37,336.27 144.28,329.43 145.60,324.30 C146.92,319.17 147.88,313.90 149.00,309.00 C150.12,304.10 150.92,300.17 152.30,294.90 C153.68,289.63 155.83,281.13 157.30,277.40 C158.77,273.67 159.98,273.07 161.10,272.50 C162.22,271.93 162.97,272.77 164.00,274.00 C165.03,275.23 165.92,276.42 167.30,279.90 C168.68,283.38 170.55,290.40 172.30,294.90 C174.05,299.40 176.35,305.88 177.80,306.90 C179.25,307.92 179.80,303.43 181.00,301.00 C182.20,298.57 183.50,295.63 185.00,292.30 C186.50,288.97 188.47,284.20 190.00,281.00 C191.53,277.80 192.87,275.27 194.20,273.10 C195.53,270.93 196.63,269.25 198.00,268.00 C199.37,266.75 200.98,265.68 202.40,265.60 C203.82,265.52 205.13,266.17 206.50,267.50 C207.87,268.83 209.27,270.93 210.60,273.60 C211.93,276.27 213.17,279.97 214.50,283.50 C215.83,287.03 217.27,291.92 218.60,294.80 C219.93,297.68 221.13,299.57 222.50,300.80 C223.87,302.03 225.38,303.25 226.80,302.20 C228.22,301.15 229.67,297.82 231.00,294.50 C232.33,291.18 233.55,286.88 234.80,282.30 C236.05,277.72 237.13,272.68 238.50,267.00 C239.87,261.32 241.67,251.95 243.00,248.20 C244.33,244.45 245.33,244.70 246.50,244.50 C247.67,244.30 248.75,245.25 250.00,247.00 C251.25,248.75 252.52,251.43 254.00,255.00 C255.48,258.57 257.48,264.07 258.90,268.40 C260.32,272.73 261.17,276.17 262.50,281.00 C263.83,285.83 265.48,292.40 266.90,297.40 C268.32,302.40 269.65,306.58 271.00,311.00 C272.35,315.42 274.33,321.75 275.00,323.90" fill="none" stroke="#000" stroke-width="1.30"  stroke-linejoin="round"/>
<path d="M65.00,341.00 C67.62,341.00 77.20,341.25 80.70,341.00 C84.20,340.75 84.28,340.33 86.00,339.50 C87.72,338.67 89.18,337.20 91.00,336.00 C92.82,334.80 95.07,334.80 96.90,332.30 C98.73,329.80 100.27,324.32 102.00,321.00 C103.73,317.68 105.88,314.73 107.30,312.40 C108.72,310.07 109.45,308.05 110.50,307.00 C111.55,305.95 112.60,305.68 113.60,306.10 C114.60,306.52 115.47,307.22 116.50,309.50 C117.53,311.78 118.72,316.55 119.80,319.80 C120.88,323.05 121.97,325.67 123.00,329.00 C124.03,332.33 124.93,336.43 126.00,339.80 C127.07,343.17 128.23,346.75 129.40,349.20 C130.57,351.65 131.67,353.37 133.00,354.50 C134.33,355.63 136.15,356.25 137.40,356.00 C138.65,355.75 139.47,354.47 140.50,353.00 C141.53,351.53 142.68,349.53 143.60,347.20 C144.52,344.87 145.17,341.90 146.00,339.00 C146.83,336.10 147.60,334.30 148.60,329.80 C149.60,325.30 150.75,318.65 152.00,312.00 C153.25,305.35 154.93,295.57 156.10,289.90 C157.27,284.23 157.97,280.90 159.00,278.00 C160.03,275.10 161.22,272.83 162.30,272.50 C163.38,272.17 164.25,273.52 165.50,276.00 C166.75,278.48 168.47,283.82 169.80,287.40 C171.13,290.98 172.17,294.25 173.50,297.50 C174.83,300.75 176.38,305.98 177.80,306.90 C179.22,307.82 180.63,304.48 182.00,303.00 C183.37,301.52 183.97,300.08 186.00,298.00 C188.03,295.92 191.47,293.12 194.20,290.50 C196.93,287.88 199.67,283.78 202.40,282.30 C205.13,280.82 208.58,281.32 210.60,281.60 C212.62,281.88 213.17,283.27 214.50,284.00 C215.83,284.73 217.27,286.00 218.60,286.00 C219.93,286.00 221.13,285.03 222.50,284.00 C223.87,282.97 225.47,282.30 226.80,279.80 C228.13,277.30 229.17,272.73 230.50,269.00 C231.83,265.27 233.47,261.07 234.80,257.40 C236.13,253.73 237.13,250.02 238.50,247.00 C239.87,243.98 241.58,240.72 243.00,239.30 C244.42,237.88 245.67,237.72 247.00,238.50 C248.33,239.28 249.67,241.08 251.00,244.00 C252.33,246.92 253.68,251.18 255.00,256.00 C256.32,260.82 257.57,267.23 258.90,272.90 C260.23,278.57 261.65,284.32 263.00,290.00 C264.35,295.68 265.67,301.33 267.00,307.00 C268.33,312.67 269.67,318.33 271.00,324.00 C272.33,329.67 274.33,338.17 275.00,341.00" fill="none" stroke="#ff0000" stroke-width="1.30" stroke-dasharray="5,4.5" stroke-linejoin="round"/>
<path d="M96.90,341.00 C97.33,340.00 98.60,337.28 99.50,335.00 C100.40,332.72 101.22,330.47 102.30,327.30 C103.38,324.13 104.75,319.32 106.00,316.00 C107.25,312.68 108.53,309.47 109.80,307.40 C111.07,305.33 112.32,303.75 113.60,303.60 C114.88,303.45 116.03,304.62 117.50,306.50 C118.97,308.38 120.98,311.82 122.40,314.90 C123.82,317.98 124.98,321.68 126.00,325.00 C127.02,328.32 127.43,332.75 128.50,334.80 C129.57,336.85 131.15,336.52 132.40,337.30 C133.65,338.08 134.75,339.08 136.00,339.50 C137.25,339.92 138.82,339.88 139.90,339.80 C140.98,339.72 141.55,339.42 142.50,339.00 C143.45,338.58 144.52,338.97 145.60,337.30 C146.68,335.63 147.88,331.92 149.00,329.00 C150.12,326.08 151.13,322.63 152.30,319.80 C153.47,316.97 154.75,314.07 156.00,312.00 C157.25,309.93 158.63,308.73 159.80,307.40 C160.97,306.07 161.97,304.83 163.00,304.00 C164.03,303.17 165.00,302.60 166.00,302.40 C167.00,302.20 167.95,302.38 169.00,302.80 C170.05,303.22 170.83,303.73 172.30,304.90 C173.77,306.07 176.35,308.57 177.80,309.80 C179.25,311.03 179.80,311.90 181.00,312.30 C182.20,312.70 183.58,312.58 185.00,312.20 C186.42,311.82 187.97,310.92 189.50,310.00 C191.03,309.08 192.70,309.20 194.20,306.70 C195.70,304.20 197.13,299.48 198.50,295.00 C199.87,290.52 201.32,284.80 202.40,279.80 C203.48,274.80 204.17,269.57 205.00,265.00 C205.83,260.43 206.57,255.40 207.40,252.40 C208.23,249.40 208.97,248.25 210.00,247.00 C211.03,245.75 211.93,245.48 213.60,244.90 C215.27,244.32 217.80,243.92 220.00,243.50 C222.20,243.08 224.80,243.15 226.80,242.40 C228.80,241.65 230.25,239.90 232.00,239.00 C233.75,238.10 235.97,237.47 237.30,237.00 C238.63,236.53 239.05,236.28 240.00,236.20 C240.95,236.12 241.83,236.12 243.00,236.50 C244.17,236.88 245.67,237.25 247.00,238.50 C248.33,239.75 249.67,241.25 251.00,244.00 C252.33,246.75 253.68,250.93 255.00,255.00 C256.32,259.07 257.57,262.90 258.90,268.40 C260.23,273.90 261.65,281.90 263.00,288.00 C264.35,294.10 265.67,299.17 267.00,305.00 C268.33,310.83 269.67,317.00 271.00,323.00 C272.33,329.00 274.33,338.00 275.00,341.00" fill="none" stroke="#0000ff" stroke-width="1.30" stroke-dasharray="5.5,2.5,1.3,2.5" stroke-linejoin="round"/>
<rect x="186.0" y="-2" width="134.0" height="60.2" fill="#fff" stroke="#555" stroke-width="1.0"/>
<line x1="187.60" y1="10.50" x2="222.00" y2="10.50" stroke="#000" stroke-width="1.30"/>
<rect x="203.00" y="8.30" width="4.40" height="4.40" fill="#fff" stroke="#000" stroke-width="1.20"/>
<line x1="187.6" y1="29.10" x2="222" y2="29.10" stroke="#ff0000" stroke-width="1.3" stroke-dasharray="5,4.5"/>
<circle cx="205.20" cy="29.10" r="2.90" fill="#fff" stroke="#ff0000" stroke-width="1.20"/>
<line x1="187.6" y1="48.00" x2="222" y2="48.00" stroke="#0000ff" stroke-width="1.3" stroke-dasharray="5.5,2.5,1.3,2.5"/>
<path d="M205.20,45.60 L208.35,50.60 L202.05,50.60 Z" fill="#fff" stroke="#0000ff" stroke-width="1.20" stroke-linejoin="miter"/>
<text x="226.4" y="15.90" font-family="Liberation Sans, sans-serif" font-size="15.3" fill="#111" stroke="#111" stroke-width="0.3">80A, r=0mm</text>
<text x="226.4" y="34.50" font-family="Liberation Sans, sans-serif" font-size="15.3" fill="#111" stroke="#111" stroke-width="0.3">90A, r=0mm</text>
<text x="226.4" y="53.40" font-family="Liberation Sans, sans-serif" font-size="15.3" fill="#111" stroke="#111" stroke-width="0.3">100A, r=0mm</text>
</svg></body></html>
